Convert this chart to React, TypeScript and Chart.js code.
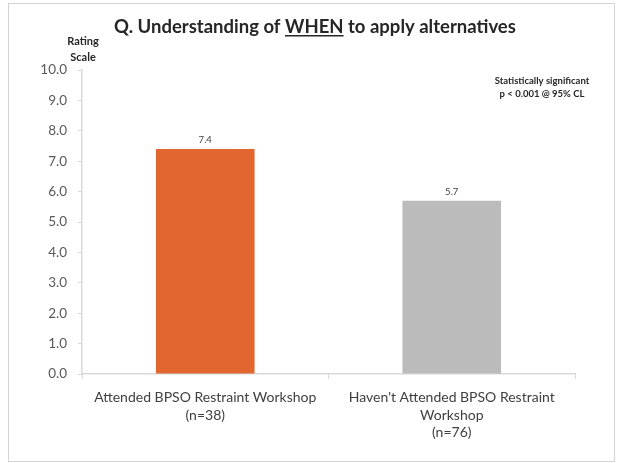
import React, { useEffect, useRef } from "react";
import { Chart, registerables } from "chart.js";

Chart.register(...registerables);

const categories: string[][] = [
  ["Attended BPSO Restraint Workshop", "(n=38)"],
  ["Haven't Attended BPSO Restraint", "Workshop", "(n=76)"],
];
const values: number[] = [7.4, 5.7];
const barColors: string[] = ["#E2662F", "#BBBBBB"];
const titleParts: string[] = ["Q. Understanding of ", "WHEN", " to apply alternatives"];
const axisTitleLines: string[] = ["Rating", "Scale"];
const noteLines: string[] = ["Statistically significant", "p < 0.001 @ 95% CL"];

const FONT = "Lato, 'Open Sans', sans-serif";

const overlayPlugin = {
  id: "overlay",
  afterDraw(chart: any) {
    const ctx = chart.ctx;
    ctx.save();
    // frame
    ctx.strokeStyle = "#D4D4D4";
    ctx.lineWidth = 1;
    ctx.strokeRect(8.5, 3.5, 606, 458);

    // title
    ctx.font = `bold 18.5px ${FONT}`;
    ctx.fillStyle = "#262626";
    ctx.textBaseline = "alphabetic";
    ctx.textAlign = "left";
    const widths = titleParts.map((t) => ctx.measureText(t).width);
    const total = widths.reduce((a: number, b: number) => a + b, 0);
    let x = 315 - total / 2;
    const ty = 33;
    titleParts.forEach((t, i) => {
      ctx.fillText(t, x, ty);
      if (i === 1) {
        ctx.fillRect(x, ty + 2, widths[i], 1.5);
      }
      x += widths[i];
    });

    // axis title
    ctx.font = `bold 11px ${FONT}`;
    ctx.textAlign = "center";
    ctx.textBaseline = "middle";
    ctx.fillStyle = "#262626";
    axisTitleLines.forEach((t, i) => ctx.fillText(t, 83, 41 + i * 16));

    // significance note
    ctx.font = `bold 9.5px ${FONT}`;
    noteLines.forEach((t, i) => ctx.fillText(t, 542, 81 + i * 13));

    // data labels
    const meta = chart.getDatasetMeta(0);
    ctx.font = `9.5px ${FONT}`;
    ctx.fillStyle = "#404040";
    ctx.textBaseline = "bottom";
    meta.data.forEach((bar: any, i: number) => {
      ctx.fillText(values[i].toFixed(1), bar.x, bar.y - 4);
    });
    ctx.restore();
  },
};

export default function App() {
  const ref = useRef<HTMLCanvasElement>(null);
  useEffect(() => {
    document.body.style.margin = "0";
    const chart = new Chart(ref.current!, {
      type: "bar",
      data: {
        labels: categories,
        datasets: [
          {
            data: values,
            backgroundColor: barColors,
            categoryPercentage: 1,
            barPercentage: 0.4,
          },
        ],
      },
      options: {
        animation: false,
        responsive: false,
        layout: { padding: { top: 70, right: 44, left: 0, bottom: 0 } },
        plugins: {
          legend: { display: false },
          tooltip: { enabled: false },
          title: { display: false },
        },
        scales: {
          x: {
            grid: {
              display: true,
              drawOnChartArea: false,
              drawTicks: true,
              tickLength: 5,
              color: "#D9D9D9",
              offset: true,
            },
            border: { color: "#D9D9D9", width: 1.5 },
            ticks: {
              color: "#404040",
              font: { family: FONT, size: 14, lineHeight: 1.25 },
              padding: 10,
              maxRotation: 0,
              autoSkip: false,
            },
            afterFit(scale: any) {
              scale.height = 89;
            },
          },
          y: {
            min: 0,
            max: 10,
            grid: {
              display: true,
              drawOnChartArea: false,
              drawTicks: true,
              tickLength: 4,
              color: "#D9D9D9",
            },
            border: { color: "#D9D9D9", width: 1.5 },
            ticks: {
              stepSize: 1,
              color: "#595959",
              font: { family: FONT, size: 13.5 },
              padding: 11,
              callback: (v: any) => Number(v).toFixed(1),
            },
            afterFit(scale: any) {
              scale.width = 82;
            },
          },
        },
      },
      plugins: [overlayPlugin],
    });
    return () => chart.destroy();
  }, []);
  return (
    <div style={{ width: 619, height: 463, background: "#fff" }}>
      <canvas ref={ref} width={619} height={463} style={{ display: "block" }} />
    </div>
  );
}
